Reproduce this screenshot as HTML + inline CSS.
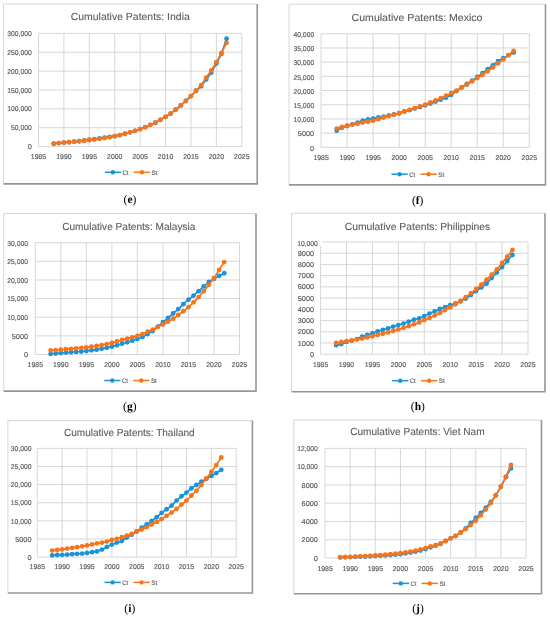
<!DOCTYPE html>
<html><head><meta charset="utf-8"><style>
html,body{margin:0;padding:0;background:#fff;}
svg{display:block;will-change:transform;filter:blur(0.35px);}
</style></head><body>
<svg width="550" height="618" viewBox="0 0 550 618" text-rendering="geometricPrecision" font-family="Liberation Sans, sans-serif">
<defs><filter id="sh" x="-5%" y="-5%" width="110%" height="110%"><feGaussianBlur stdDeviation="0.35"/></filter></defs>
<rect width="550" height="618" fill="#fff"/>
<path d="M3.5 183.7V4H257" stroke="#d6d6d6" stroke-width="1" fill="none"/>
<path d="M257.2 4V183.9H3.5" stroke="#969696" stroke-width="1.6" fill="none" filter="url(#sh)"/>
<path d="M38.5 146.6H241.8 M38.5 127.73H241.8 M38.5 108.87H241.8 M38.5 90H241.8 M38.5 71.13H241.8 M38.5 52.27H241.8 M38.5 33.4H241.8 M38.5 33.4V146.6 M63.91 33.4V146.6 M89.33 33.4V146.6 M114.74 33.4V146.6 M140.15 33.4V146.6 M165.56 33.4V146.6 M190.98 33.4V146.6 M216.39 33.4V146.6 M241.8 33.4V146.6" stroke="#D2D2D2" stroke-width="0.9" fill="none"/>
<text x="31.8" y="149.2" text-anchor="end" font-size="7.0" fill="#595959" stroke="#595959" stroke-width="0.15" textLength="4.09" lengthAdjust="spacingAndGlyphs">0</text>
<text x="31.8" y="130.33" text-anchor="end" font-size="7.0" fill="#595959" stroke="#595959" stroke-width="0.15" textLength="20.76" lengthAdjust="spacingAndGlyphs">50,000</text>
<text x="31.8" y="111.47" text-anchor="end" font-size="7.0" fill="#595959" stroke="#595959" stroke-width="0.15" textLength="24.54" lengthAdjust="spacingAndGlyphs">100,000</text>
<text x="31.8" y="92.6" text-anchor="end" font-size="7.0" fill="#595959" stroke="#595959" stroke-width="0.15" textLength="24.54" lengthAdjust="spacingAndGlyphs">150,000</text>
<text x="31.8" y="73.73" text-anchor="end" font-size="7.0" fill="#595959" stroke="#595959" stroke-width="0.15" textLength="24.54" lengthAdjust="spacingAndGlyphs">200,000</text>
<text x="31.8" y="54.87" text-anchor="end" font-size="7.0" fill="#595959" stroke="#595959" stroke-width="0.15" textLength="24.54" lengthAdjust="spacingAndGlyphs">250,000</text>
<text x="31.8" y="36" text-anchor="end" font-size="7.0" fill="#595959" stroke="#595959" stroke-width="0.15" textLength="24.54" lengthAdjust="spacingAndGlyphs">300,000</text>
<text x="38.5" y="158.8" text-anchor="middle" font-size="7.0" fill="#595959" stroke="#595959" stroke-width="0.15" textLength="15.41" lengthAdjust="spacingAndGlyphs">1985</text>
<text x="63.91" y="158.8" text-anchor="middle" font-size="7.0" fill="#595959" stroke="#595959" stroke-width="0.15" textLength="15.41" lengthAdjust="spacingAndGlyphs">1990</text>
<text x="89.33" y="158.8" text-anchor="middle" font-size="7.0" fill="#595959" stroke="#595959" stroke-width="0.15" textLength="15.41" lengthAdjust="spacingAndGlyphs">1995</text>
<text x="114.74" y="158.8" text-anchor="middle" font-size="7.0" fill="#595959" stroke="#595959" stroke-width="0.15" textLength="15.41" lengthAdjust="spacingAndGlyphs">2000</text>
<text x="140.15" y="158.8" text-anchor="middle" font-size="7.0" fill="#595959" stroke="#595959" stroke-width="0.15" textLength="15.41" lengthAdjust="spacingAndGlyphs">2005</text>
<text x="165.56" y="158.8" text-anchor="middle" font-size="7.0" fill="#595959" stroke="#595959" stroke-width="0.15" textLength="15.41" lengthAdjust="spacingAndGlyphs">2010</text>
<text x="190.98" y="158.8" text-anchor="middle" font-size="7.0" fill="#595959" stroke="#595959" stroke-width="0.15" textLength="15.41" lengthAdjust="spacingAndGlyphs">2015</text>
<text x="216.39" y="158.8" text-anchor="middle" font-size="7.0" fill="#595959" stroke="#595959" stroke-width="0.15" textLength="15.41" lengthAdjust="spacingAndGlyphs">2020</text>
<text x="241.8" y="158.8" text-anchor="middle" font-size="7.0" fill="#595959" stroke="#595959" stroke-width="0.15" textLength="15.41" lengthAdjust="spacingAndGlyphs">2025</text>
<text x="70.7" y="20.3" font-size="10.3" fill="#595959" stroke="#595959" stroke-width="0.08" textLength="119.1" lengthAdjust="spacingAndGlyphs">Cumulative Patents: India</text>
<path d="M53.75 143.77 L58.83 143.09 L63.91 142.6 L69 142.14 L74.08 141.7 L79.16 141.08 L84.24 140.4 L89.33 139.74 L94.41 139.04 L99.49 138.36 L104.57 137.6 L109.66 136.86 L114.74 136.15 L119.82 135.03 L124.9 133.76 L129.99 132.35 L135.07 130.78 L140.15 129.05 L145.23 127.17 L150.31 124.83 L155.4 122.68 L160.48 119.81 L165.56 116.79 L170.65 113.55 L175.73 109.62 L180.81 105.47 L185.89 100.94 L190.97 96.04 L196.06 90.75 L201.14 86.23 L206.22 79.43 L211.31 72.64 L216.39 63.59 L221.47 53.78 L226.55 38.68" stroke="#1893DC" stroke-width="1.7" fill="none" stroke-linejoin="round"/>
<circle cx="53.75" cy="143.77" r="2.4" fill="#1893DC"/><circle cx="58.83" cy="143.09" r="2.4" fill="#1893DC"/><circle cx="63.91" cy="142.6" r="2.4" fill="#1893DC"/><circle cx="69" cy="142.14" r="2.4" fill="#1893DC"/><circle cx="74.08" cy="141.7" r="2.4" fill="#1893DC"/><circle cx="79.16" cy="141.08" r="2.4" fill="#1893DC"/><circle cx="84.24" cy="140.4" r="2.4" fill="#1893DC"/><circle cx="89.33" cy="139.74" r="2.4" fill="#1893DC"/><circle cx="94.41" cy="139.04" r="2.4" fill="#1893DC"/><circle cx="99.49" cy="138.36" r="2.4" fill="#1893DC"/><circle cx="104.57" cy="137.6" r="2.4" fill="#1893DC"/><circle cx="109.66" cy="136.86" r="2.4" fill="#1893DC"/><circle cx="114.74" cy="136.15" r="2.4" fill="#1893DC"/><circle cx="119.82" cy="135.03" r="2.4" fill="#1893DC"/><circle cx="124.9" cy="133.76" r="2.4" fill="#1893DC"/><circle cx="129.99" cy="132.35" r="2.4" fill="#1893DC"/><circle cx="135.07" cy="130.78" r="2.4" fill="#1893DC"/><circle cx="140.15" cy="129.05" r="2.4" fill="#1893DC"/><circle cx="145.23" cy="127.17" r="2.4" fill="#1893DC"/><circle cx="150.31" cy="124.83" r="2.4" fill="#1893DC"/><circle cx="155.4" cy="122.68" r="2.4" fill="#1893DC"/><circle cx="160.48" cy="119.81" r="2.4" fill="#1893DC"/><circle cx="165.56" cy="116.79" r="2.4" fill="#1893DC"/><circle cx="170.65" cy="113.55" r="2.4" fill="#1893DC"/><circle cx="175.73" cy="109.62" r="2.4" fill="#1893DC"/><circle cx="180.81" cy="105.47" r="2.4" fill="#1893DC"/><circle cx="185.89" cy="100.94" r="2.4" fill="#1893DC"/><circle cx="190.97" cy="96.04" r="2.4" fill="#1893DC"/><circle cx="196.06" cy="90.75" r="2.4" fill="#1893DC"/><circle cx="201.14" cy="86.23" r="2.4" fill="#1893DC"/><circle cx="206.22" cy="79.43" r="2.4" fill="#1893DC"/><circle cx="211.31" cy="72.64" r="2.4" fill="#1893DC"/><circle cx="216.39" cy="63.59" r="2.4" fill="#1893DC"/><circle cx="221.47" cy="53.78" r="2.4" fill="#1893DC"/><circle cx="226.55" cy="38.68" r="2.4" fill="#1893DC"/>
<path d="M53.75 143.58 L58.83 143.09 L63.91 142.6 L69 142.14 L74.08 141.7 L79.16 141.24 L84.24 140.75 L89.33 140.19 L94.41 139.54 L99.49 138.82 L104.57 138.03 L109.66 137.14 L114.74 136.15 L119.82 135.03 L124.9 133.76 L129.99 132.35 L135.07 130.78 L140.15 129.05 L145.23 127.17 L150.31 124.83 L155.4 122.68 L160.48 119.81 L165.56 116.79 L170.65 113.55 L175.73 109.62 L180.81 105.47 L185.89 100.94 L190.97 96.04 L196.06 90.75 L201.14 85.09 L206.22 77.55 L211.31 70.38 L216.39 62.08 L221.47 53.02 L226.55 42.83" stroke="#F8741A" stroke-width="1.7" fill="none" stroke-linejoin="round"/>
<circle cx="53.75" cy="143.58" r="2.4" fill="#F8741A"/><circle cx="58.83" cy="143.09" r="2.4" fill="#F8741A"/><circle cx="63.91" cy="142.6" r="2.4" fill="#F8741A"/><circle cx="69" cy="142.14" r="2.4" fill="#F8741A"/><circle cx="74.08" cy="141.7" r="2.4" fill="#F8741A"/><circle cx="79.16" cy="141.24" r="2.4" fill="#F8741A"/><circle cx="84.24" cy="140.75" r="2.4" fill="#F8741A"/><circle cx="89.33" cy="140.19" r="2.4" fill="#F8741A"/><circle cx="94.41" cy="139.54" r="2.4" fill="#F8741A"/><circle cx="99.49" cy="138.82" r="2.4" fill="#F8741A"/><circle cx="104.57" cy="138.03" r="2.4" fill="#F8741A"/><circle cx="109.66" cy="137.14" r="2.4" fill="#F8741A"/><circle cx="114.74" cy="136.15" r="2.4" fill="#F8741A"/><circle cx="119.82" cy="135.03" r="2.4" fill="#F8741A"/><circle cx="124.9" cy="133.76" r="2.4" fill="#F8741A"/><circle cx="129.99" cy="132.35" r="2.4" fill="#F8741A"/><circle cx="135.07" cy="130.78" r="2.4" fill="#F8741A"/><circle cx="140.15" cy="129.05" r="2.4" fill="#F8741A"/><circle cx="145.23" cy="127.17" r="2.4" fill="#F8741A"/><circle cx="150.31" cy="124.83" r="2.4" fill="#F8741A"/><circle cx="155.4" cy="122.68" r="2.4" fill="#F8741A"/><circle cx="160.48" cy="119.81" r="2.4" fill="#F8741A"/><circle cx="165.56" cy="116.79" r="2.4" fill="#F8741A"/><circle cx="170.65" cy="113.55" r="2.4" fill="#F8741A"/><circle cx="175.73" cy="109.62" r="2.4" fill="#F8741A"/><circle cx="180.81" cy="105.47" r="2.4" fill="#F8741A"/><circle cx="185.89" cy="100.94" r="2.4" fill="#F8741A"/><circle cx="190.97" cy="96.04" r="2.4" fill="#F8741A"/><circle cx="196.06" cy="90.75" r="2.4" fill="#F8741A"/><circle cx="201.14" cy="85.09" r="2.4" fill="#F8741A"/><circle cx="206.22" cy="77.55" r="2.4" fill="#F8741A"/><circle cx="211.31" cy="70.38" r="2.4" fill="#F8741A"/><circle cx="216.39" cy="62.08" r="2.4" fill="#F8741A"/><circle cx="221.47" cy="53.02" r="2.4" fill="#F8741A"/><circle cx="226.55" cy="42.83" r="2.4" fill="#F8741A"/>
<path d="M104.8 172.3H121.1" stroke="#1893DC" stroke-width="1.5"/>
<circle cx="112.9" cy="172.3" r="2.2" fill="#1893DC"/>
<text x="122.5" y="174.6" font-size="6.4" fill="#595959" stroke="#595959" stroke-width="0.12" textLength="6.0" lengthAdjust="spacingAndGlyphs">Ct</text>
<path d="M133.8 172.3H150.1" stroke="#F8741A" stroke-width="1.5"/>
<circle cx="141.9" cy="172.3" r="2.2" fill="#F8741A"/>
<text x="151.5" y="174.6" font-size="6.4" fill="#595959" stroke="#595959" stroke-width="0.12" textLength="6.0" lengthAdjust="spacingAndGlyphs">St</text>
<text x="130" y="202.8" text-anchor="middle" font-family="Liberation Serif, serif" font-size="11.5" fill="#000">(<tspan font-weight="bold">e</tspan>)</text>
<path d="M289 184.7V4.2H545.3" stroke="#d6d6d6" stroke-width="1" fill="none"/>
<path d="M545.5 4.2V184.9H289" stroke="#969696" stroke-width="1.6" fill="none" filter="url(#sh)"/>
<path d="M321.1 147.3H529.3 M321.1 133.11H529.3 M321.1 118.93H529.3 M321.1 104.74H529.3 M321.1 90.55H529.3 M321.1 76.36H529.3 M321.1 62.17H529.3 M321.1 47.99H529.3 M321.1 33.8H529.3 M321.1 33.8V147.3 M347.12 33.8V147.3 M373.15 33.8V147.3 M399.18 33.8V147.3 M425.2 33.8V147.3 M451.22 33.8V147.3 M477.25 33.8V147.3 M503.27 33.8V147.3 M529.3 33.8V147.3" stroke="#D2D2D2" stroke-width="0.9" fill="none"/>
<text x="314.2" y="150.6" text-anchor="end" font-size="7.0" fill="#595959" stroke="#595959" stroke-width="0.15" textLength="4.09" lengthAdjust="spacingAndGlyphs">0</text>
<text x="314.2" y="136.41" text-anchor="end" font-size="7.0" fill="#595959" stroke="#595959" stroke-width="0.15" textLength="16.35" lengthAdjust="spacingAndGlyphs">5000</text>
<text x="314.2" y="122.23" text-anchor="end" font-size="7.0" fill="#595959" stroke="#595959" stroke-width="0.15" textLength="20.76" lengthAdjust="spacingAndGlyphs">10,000</text>
<text x="314.2" y="108.04" text-anchor="end" font-size="7.0" fill="#595959" stroke="#595959" stroke-width="0.15" textLength="20.76" lengthAdjust="spacingAndGlyphs">15,000</text>
<text x="314.2" y="93.85" text-anchor="end" font-size="7.0" fill="#595959" stroke="#595959" stroke-width="0.15" textLength="20.76" lengthAdjust="spacingAndGlyphs">20,000</text>
<text x="314.2" y="79.66" text-anchor="end" font-size="7.0" fill="#595959" stroke="#595959" stroke-width="0.15" textLength="20.76" lengthAdjust="spacingAndGlyphs">25,000</text>
<text x="314.2" y="65.47" text-anchor="end" font-size="7.0" fill="#595959" stroke="#595959" stroke-width="0.15" textLength="20.76" lengthAdjust="spacingAndGlyphs">30,000</text>
<text x="314.2" y="51.29" text-anchor="end" font-size="7.0" fill="#595959" stroke="#595959" stroke-width="0.15" textLength="20.76" lengthAdjust="spacingAndGlyphs">35,000</text>
<text x="314.2" y="37.1" text-anchor="end" font-size="7.0" fill="#595959" stroke="#595959" stroke-width="0.15" textLength="20.76" lengthAdjust="spacingAndGlyphs">40,000</text>
<text x="321.1" y="160.4" text-anchor="middle" font-size="7.0" fill="#595959" stroke="#595959" stroke-width="0.15" textLength="15.41" lengthAdjust="spacingAndGlyphs">1985</text>
<text x="347.12" y="160.4" text-anchor="middle" font-size="7.0" fill="#595959" stroke="#595959" stroke-width="0.15" textLength="15.41" lengthAdjust="spacingAndGlyphs">1990</text>
<text x="373.15" y="160.4" text-anchor="middle" font-size="7.0" fill="#595959" stroke="#595959" stroke-width="0.15" textLength="15.41" lengthAdjust="spacingAndGlyphs">1995</text>
<text x="399.18" y="160.4" text-anchor="middle" font-size="7.0" fill="#595959" stroke="#595959" stroke-width="0.15" textLength="15.41" lengthAdjust="spacingAndGlyphs">2000</text>
<text x="425.2" y="160.4" text-anchor="middle" font-size="7.0" fill="#595959" stroke="#595959" stroke-width="0.15" textLength="15.41" lengthAdjust="spacingAndGlyphs">2005</text>
<text x="451.22" y="160.4" text-anchor="middle" font-size="7.0" fill="#595959" stroke="#595959" stroke-width="0.15" textLength="15.41" lengthAdjust="spacingAndGlyphs">2010</text>
<text x="477.25" y="160.4" text-anchor="middle" font-size="7.0" fill="#595959" stroke="#595959" stroke-width="0.15" textLength="15.41" lengthAdjust="spacingAndGlyphs">2015</text>
<text x="503.27" y="160.4" text-anchor="middle" font-size="7.0" fill="#595959" stroke="#595959" stroke-width="0.15" textLength="15.41" lengthAdjust="spacingAndGlyphs">2020</text>
<text x="529.3" y="160.4" text-anchor="middle" font-size="7.0" fill="#595959" stroke="#595959" stroke-width="0.15" textLength="15.41" lengthAdjust="spacingAndGlyphs">2025</text>
<text x="351.6" y="21" font-size="10.3" fill="#595959" stroke="#595959" stroke-width="0.08" textLength="130.9" lengthAdjust="spacingAndGlyphs">Cumulative Patents: Mexico</text>
<path d="M336.72 130.7 L341.92 127.72 L347.12 126.02 L352.33 124.32 L357.54 122.61 L362.74 120.63 L367.94 119.49 L373.15 118.64 L378.36 117.51 L383.56 116.66 L388.76 115.52 L393.97 114.39 L399.18 113.25 L404.38 111.55 L409.58 110.13 L414.79 108.43 L420 107.01 L425.2 105.31 L430.4 103.6 L435.61 101.62 L440.81 99.63 L446.02 97.64 L451.22 94.81 L456.43 91.12 L461.63 87.43 L466.84 84.02 L472.04 80.62 L477.25 76.93 L482.45 73.24 L487.66 69.27 L492.86 65.3 L498.07 61.04 L503.27 58.2 L508.48 55.37 L513.68 52.53" stroke="#1893DC" stroke-width="1.7" fill="none" stroke-linejoin="round"/>
<circle cx="336.72" cy="130.7" r="2.4" fill="#1893DC"/><circle cx="341.92" cy="127.72" r="2.4" fill="#1893DC"/><circle cx="347.12" cy="126.02" r="2.4" fill="#1893DC"/><circle cx="352.33" cy="124.32" r="2.4" fill="#1893DC"/><circle cx="357.54" cy="122.61" r="2.4" fill="#1893DC"/><circle cx="362.74" cy="120.63" r="2.4" fill="#1893DC"/><circle cx="367.94" cy="119.49" r="2.4" fill="#1893DC"/><circle cx="373.15" cy="118.64" r="2.4" fill="#1893DC"/><circle cx="378.36" cy="117.51" r="2.4" fill="#1893DC"/><circle cx="383.56" cy="116.66" r="2.4" fill="#1893DC"/><circle cx="388.76" cy="115.52" r="2.4" fill="#1893DC"/><circle cx="393.97" cy="114.39" r="2.4" fill="#1893DC"/><circle cx="399.18" cy="113.25" r="2.4" fill="#1893DC"/><circle cx="404.38" cy="111.55" r="2.4" fill="#1893DC"/><circle cx="409.58" cy="110.13" r="2.4" fill="#1893DC"/><circle cx="414.79" cy="108.43" r="2.4" fill="#1893DC"/><circle cx="420" cy="107.01" r="2.4" fill="#1893DC"/><circle cx="425.2" cy="105.31" r="2.4" fill="#1893DC"/><circle cx="430.4" cy="103.6" r="2.4" fill="#1893DC"/><circle cx="435.61" cy="101.62" r="2.4" fill="#1893DC"/><circle cx="440.81" cy="99.63" r="2.4" fill="#1893DC"/><circle cx="446.02" cy="97.64" r="2.4" fill="#1893DC"/><circle cx="451.22" cy="94.81" r="2.4" fill="#1893DC"/><circle cx="456.43" cy="91.12" r="2.4" fill="#1893DC"/><circle cx="461.63" cy="87.43" r="2.4" fill="#1893DC"/><circle cx="466.84" cy="84.02" r="2.4" fill="#1893DC"/><circle cx="472.04" cy="80.62" r="2.4" fill="#1893DC"/><circle cx="477.25" cy="76.93" r="2.4" fill="#1893DC"/><circle cx="482.45" cy="73.24" r="2.4" fill="#1893DC"/><circle cx="487.66" cy="69.27" r="2.4" fill="#1893DC"/><circle cx="492.86" cy="65.3" r="2.4" fill="#1893DC"/><circle cx="498.07" cy="61.04" r="2.4" fill="#1893DC"/><circle cx="503.27" cy="58.2" r="2.4" fill="#1893DC"/><circle cx="508.48" cy="55.37" r="2.4" fill="#1893DC"/><circle cx="513.68" cy="52.53" r="2.4" fill="#1893DC"/>
<path d="M336.72 128.57 L341.92 126.87 L347.12 125.74 L352.33 124.6 L357.54 123.75 L362.74 122.61 L367.94 121.76 L373.15 120.63 L378.36 119.21 L383.56 117.51 L388.76 116.09 L393.97 114.67 L399.18 113.25 L404.38 111.26 L409.58 109.85 L414.79 108.14 L420 106.44 L425.2 104.6 L430.4 102.47 L435.61 100.48 L440.81 98.21 L446.02 95.66 L451.22 93.1 L456.43 90.55 L461.63 87.43 L466.84 84.59 L472.04 81.47 L477.25 78.06 L482.45 74.66 L487.66 71.25 L492.86 67.28 L498.07 63.31 L503.27 59.34 L508.48 55.08 L513.68 50.82" stroke="#F8741A" stroke-width="1.7" fill="none" stroke-linejoin="round"/>
<circle cx="336.72" cy="128.57" r="2.4" fill="#F8741A"/><circle cx="341.92" cy="126.87" r="2.4" fill="#F8741A"/><circle cx="347.12" cy="125.74" r="2.4" fill="#F8741A"/><circle cx="352.33" cy="124.6" r="2.4" fill="#F8741A"/><circle cx="357.54" cy="123.75" r="2.4" fill="#F8741A"/><circle cx="362.74" cy="122.61" r="2.4" fill="#F8741A"/><circle cx="367.94" cy="121.76" r="2.4" fill="#F8741A"/><circle cx="373.15" cy="120.63" r="2.4" fill="#F8741A"/><circle cx="378.36" cy="119.21" r="2.4" fill="#F8741A"/><circle cx="383.56" cy="117.51" r="2.4" fill="#F8741A"/><circle cx="388.76" cy="116.09" r="2.4" fill="#F8741A"/><circle cx="393.97" cy="114.67" r="2.4" fill="#F8741A"/><circle cx="399.18" cy="113.25" r="2.4" fill="#F8741A"/><circle cx="404.38" cy="111.26" r="2.4" fill="#F8741A"/><circle cx="409.58" cy="109.85" r="2.4" fill="#F8741A"/><circle cx="414.79" cy="108.14" r="2.4" fill="#F8741A"/><circle cx="420" cy="106.44" r="2.4" fill="#F8741A"/><circle cx="425.2" cy="104.6" r="2.4" fill="#F8741A"/><circle cx="430.4" cy="102.47" r="2.4" fill="#F8741A"/><circle cx="435.61" cy="100.48" r="2.4" fill="#F8741A"/><circle cx="440.81" cy="98.21" r="2.4" fill="#F8741A"/><circle cx="446.02" cy="95.66" r="2.4" fill="#F8741A"/><circle cx="451.22" cy="93.1" r="2.4" fill="#F8741A"/><circle cx="456.43" cy="90.55" r="2.4" fill="#F8741A"/><circle cx="461.63" cy="87.43" r="2.4" fill="#F8741A"/><circle cx="466.84" cy="84.59" r="2.4" fill="#F8741A"/><circle cx="472.04" cy="81.47" r="2.4" fill="#F8741A"/><circle cx="477.25" cy="78.06" r="2.4" fill="#F8741A"/><circle cx="482.45" cy="74.66" r="2.4" fill="#F8741A"/><circle cx="487.66" cy="71.25" r="2.4" fill="#F8741A"/><circle cx="492.86" cy="67.28" r="2.4" fill="#F8741A"/><circle cx="498.07" cy="63.31" r="2.4" fill="#F8741A"/><circle cx="503.27" cy="59.34" r="2.4" fill="#F8741A"/><circle cx="508.48" cy="55.08" r="2.4" fill="#F8741A"/><circle cx="513.68" cy="50.82" r="2.4" fill="#F8741A"/>
<path d="M391.5 174.2H407.8" stroke="#1893DC" stroke-width="1.5"/>
<circle cx="399.6" cy="174.2" r="2.2" fill="#1893DC"/>
<text x="409.2" y="176.5" font-size="6.4" fill="#595959" stroke="#595959" stroke-width="0.12" textLength="6.0" lengthAdjust="spacingAndGlyphs">Ct</text>
<path d="M420.5 174.2H436.8" stroke="#F8741A" stroke-width="1.5"/>
<circle cx="428.6" cy="174.2" r="2.2" fill="#F8741A"/>
<text x="438.2" y="176.5" font-size="6.4" fill="#595959" stroke="#595959" stroke-width="0.12" textLength="6.0" lengthAdjust="spacingAndGlyphs">St</text>
<text x="417.7" y="203.5" text-anchor="middle" font-family="Liberation Serif, serif" font-size="11.5" fill="#000">(<tspan font-weight="bold">f</tspan>)</text>
<path d="M3.7 390.9V213.5H255.8" stroke="#d6d6d6" stroke-width="1" fill="none"/>
<path d="M256 213.5V391.1H3.7" stroke="#969696" stroke-width="1.6" fill="none" filter="url(#sh)"/>
<path d="M35.3 354.5H239.5 M35.3 335.87H239.5 M35.3 317.23H239.5 M35.3 298.6H239.5 M35.3 279.97H239.5 M35.3 261.33H239.5 M35.3 242.7H239.5 M35.3 242.7V354.5 M60.82 242.7V354.5 M86.35 242.7V354.5 M111.87 242.7V354.5 M137.4 242.7V354.5 M162.93 242.7V354.5 M188.45 242.7V354.5 M213.97 242.7V354.5 M239.5 242.7V354.5" stroke="#D2D2D2" stroke-width="0.9" fill="none"/>
<text x="28.1" y="357.3" text-anchor="end" font-size="7.0" fill="#595959" stroke="#595959" stroke-width="0.15" textLength="4.09" lengthAdjust="spacingAndGlyphs">0</text>
<text x="28.1" y="338.67" text-anchor="end" font-size="7.0" fill="#595959" stroke="#595959" stroke-width="0.15" textLength="16.35" lengthAdjust="spacingAndGlyphs">5000</text>
<text x="28.1" y="320.03" text-anchor="end" font-size="7.0" fill="#595959" stroke="#595959" stroke-width="0.15" textLength="20.76" lengthAdjust="spacingAndGlyphs">10,000</text>
<text x="28.1" y="301.4" text-anchor="end" font-size="7.0" fill="#595959" stroke="#595959" stroke-width="0.15" textLength="20.76" lengthAdjust="spacingAndGlyphs">15,000</text>
<text x="28.1" y="282.77" text-anchor="end" font-size="7.0" fill="#595959" stroke="#595959" stroke-width="0.15" textLength="20.76" lengthAdjust="spacingAndGlyphs">20,000</text>
<text x="28.1" y="264.13" text-anchor="end" font-size="7.0" fill="#595959" stroke="#595959" stroke-width="0.15" textLength="20.76" lengthAdjust="spacingAndGlyphs">25,000</text>
<text x="28.1" y="245.5" text-anchor="end" font-size="7.0" fill="#595959" stroke="#595959" stroke-width="0.15" textLength="20.76" lengthAdjust="spacingAndGlyphs">30,000</text>
<text x="35.3" y="366.6" text-anchor="middle" font-size="7.0" fill="#595959" stroke="#595959" stroke-width="0.15" textLength="15.41" lengthAdjust="spacingAndGlyphs">1985</text>
<text x="60.82" y="366.6" text-anchor="middle" font-size="7.0" fill="#595959" stroke="#595959" stroke-width="0.15" textLength="15.41" lengthAdjust="spacingAndGlyphs">1990</text>
<text x="86.35" y="366.6" text-anchor="middle" font-size="7.0" fill="#595959" stroke="#595959" stroke-width="0.15" textLength="15.41" lengthAdjust="spacingAndGlyphs">1995</text>
<text x="111.87" y="366.6" text-anchor="middle" font-size="7.0" fill="#595959" stroke="#595959" stroke-width="0.15" textLength="15.41" lengthAdjust="spacingAndGlyphs">2000</text>
<text x="137.4" y="366.6" text-anchor="middle" font-size="7.0" fill="#595959" stroke="#595959" stroke-width="0.15" textLength="15.41" lengthAdjust="spacingAndGlyphs">2005</text>
<text x="162.93" y="366.6" text-anchor="middle" font-size="7.0" fill="#595959" stroke="#595959" stroke-width="0.15" textLength="15.41" lengthAdjust="spacingAndGlyphs">2010</text>
<text x="188.45" y="366.6" text-anchor="middle" font-size="7.0" fill="#595959" stroke="#595959" stroke-width="0.15" textLength="15.41" lengthAdjust="spacingAndGlyphs">2015</text>
<text x="213.97" y="366.6" text-anchor="middle" font-size="7.0" fill="#595959" stroke="#595959" stroke-width="0.15" textLength="15.41" lengthAdjust="spacingAndGlyphs">2020</text>
<text x="239.5" y="366.6" text-anchor="middle" font-size="7.0" fill="#595959" stroke="#595959" stroke-width="0.15" textLength="15.41" lengthAdjust="spacingAndGlyphs">2025</text>
<text x="62.2" y="229.5" font-size="10.3" fill="#595959" stroke="#595959" stroke-width="0.08" textLength="133.3" lengthAdjust="spacingAndGlyphs">Cumulative Patents: Malaysia</text>
<path d="M50.61 353.94 L55.72 353.51 L60.82 353.01 L65.93 352.61 L71.03 352.24 L76.14 351.88 L81.25 351.49 L86.35 351 L91.45 350.37 L96.56 349.65 L101.66 348.81 L106.77 347.83 L111.88 346.67 L116.98 345.25 L122.08 343.69 L127.19 342.23 L132.29 340.71 L137.4 339.03 L142.5 337.06 L147.61 334.08 L152.71 331.02 L157.82 326.55 L162.93 322.08 L168.03 317.98 L173.13 313.51 L178.24 309.03 L183.34 304.19 L188.45 299.72 L193.56 295.62 L198.66 291.15 L203.76 286.3 L208.87 281.83 L213.98 278.85 L219.08 275.87 L224.19 273.26" stroke="#1893DC" stroke-width="1.7" fill="none" stroke-linejoin="round"/>
<circle cx="50.61" cy="353.94" r="2.4" fill="#1893DC"/><circle cx="55.72" cy="353.51" r="2.4" fill="#1893DC"/><circle cx="60.82" cy="353.01" r="2.4" fill="#1893DC"/><circle cx="65.93" cy="352.61" r="2.4" fill="#1893DC"/><circle cx="71.03" cy="352.24" r="2.4" fill="#1893DC"/><circle cx="76.14" cy="351.88" r="2.4" fill="#1893DC"/><circle cx="81.25" cy="351.49" r="2.4" fill="#1893DC"/><circle cx="86.35" cy="351" r="2.4" fill="#1893DC"/><circle cx="91.45" cy="350.37" r="2.4" fill="#1893DC"/><circle cx="96.56" cy="349.65" r="2.4" fill="#1893DC"/><circle cx="101.66" cy="348.81" r="2.4" fill="#1893DC"/><circle cx="106.77" cy="347.83" r="2.4" fill="#1893DC"/><circle cx="111.88" cy="346.67" r="2.4" fill="#1893DC"/><circle cx="116.98" cy="345.25" r="2.4" fill="#1893DC"/><circle cx="122.08" cy="343.69" r="2.4" fill="#1893DC"/><circle cx="127.19" cy="342.23" r="2.4" fill="#1893DC"/><circle cx="132.29" cy="340.71" r="2.4" fill="#1893DC"/><circle cx="137.4" cy="339.03" r="2.4" fill="#1893DC"/><circle cx="142.5" cy="337.06" r="2.4" fill="#1893DC"/><circle cx="147.61" cy="334.08" r="2.4" fill="#1893DC"/><circle cx="152.71" cy="331.02" r="2.4" fill="#1893DC"/><circle cx="157.82" cy="326.55" r="2.4" fill="#1893DC"/><circle cx="162.93" cy="322.08" r="2.4" fill="#1893DC"/><circle cx="168.03" cy="317.98" r="2.4" fill="#1893DC"/><circle cx="173.13" cy="313.51" r="2.4" fill="#1893DC"/><circle cx="178.24" cy="309.03" r="2.4" fill="#1893DC"/><circle cx="183.34" cy="304.19" r="2.4" fill="#1893DC"/><circle cx="188.45" cy="299.72" r="2.4" fill="#1893DC"/><circle cx="193.56" cy="295.62" r="2.4" fill="#1893DC"/><circle cx="198.66" cy="291.15" r="2.4" fill="#1893DC"/><circle cx="203.76" cy="286.3" r="2.4" fill="#1893DC"/><circle cx="208.87" cy="281.83" r="2.4" fill="#1893DC"/><circle cx="213.98" cy="278.85" r="2.4" fill="#1893DC"/><circle cx="219.08" cy="275.87" r="2.4" fill="#1893DC"/><circle cx="224.19" cy="273.26" r="2.4" fill="#1893DC"/>
<path d="M50.61 350.4 L55.72 350.04 L60.82 349.66 L65.93 349.27 L71.03 348.87 L76.14 348.45 L81.25 347.97 L86.35 347.42 L91.45 346.76 L96.56 346 L101.66 345.12 L106.77 344.11 L111.88 342.95 L116.98 341.51 L122.08 339.97 L127.19 338.66 L132.29 337.36 L137.4 335.87 L142.5 334.08 L147.61 331.66 L152.71 329.64 L157.82 327.03 L162.93 324.46 L168.03 321.71 L173.13 318.72 L178.24 315 L183.34 311.27 L188.45 307.17 L193.56 302.33 L198.66 297.11 L203.76 291.15 L208.87 284.81 L213.98 278.1 L219.08 269.9 L224.19 262.08" stroke="#F8741A" stroke-width="1.7" fill="none" stroke-linejoin="round"/>
<circle cx="50.61" cy="350.4" r="2.4" fill="#F8741A"/><circle cx="55.72" cy="350.04" r="2.4" fill="#F8741A"/><circle cx="60.82" cy="349.66" r="2.4" fill="#F8741A"/><circle cx="65.93" cy="349.27" r="2.4" fill="#F8741A"/><circle cx="71.03" cy="348.87" r="2.4" fill="#F8741A"/><circle cx="76.14" cy="348.45" r="2.4" fill="#F8741A"/><circle cx="81.25" cy="347.97" r="2.4" fill="#F8741A"/><circle cx="86.35" cy="347.42" r="2.4" fill="#F8741A"/><circle cx="91.45" cy="346.76" r="2.4" fill="#F8741A"/><circle cx="96.56" cy="346" r="2.4" fill="#F8741A"/><circle cx="101.66" cy="345.12" r="2.4" fill="#F8741A"/><circle cx="106.77" cy="344.11" r="2.4" fill="#F8741A"/><circle cx="111.88" cy="342.95" r="2.4" fill="#F8741A"/><circle cx="116.98" cy="341.51" r="2.4" fill="#F8741A"/><circle cx="122.08" cy="339.97" r="2.4" fill="#F8741A"/><circle cx="127.19" cy="338.66" r="2.4" fill="#F8741A"/><circle cx="132.29" cy="337.36" r="2.4" fill="#F8741A"/><circle cx="137.4" cy="335.87" r="2.4" fill="#F8741A"/><circle cx="142.5" cy="334.08" r="2.4" fill="#F8741A"/><circle cx="147.61" cy="331.66" r="2.4" fill="#F8741A"/><circle cx="152.71" cy="329.64" r="2.4" fill="#F8741A"/><circle cx="157.82" cy="327.03" r="2.4" fill="#F8741A"/><circle cx="162.93" cy="324.46" r="2.4" fill="#F8741A"/><circle cx="168.03" cy="321.71" r="2.4" fill="#F8741A"/><circle cx="173.13" cy="318.72" r="2.4" fill="#F8741A"/><circle cx="178.24" cy="315" r="2.4" fill="#F8741A"/><circle cx="183.34" cy="311.27" r="2.4" fill="#F8741A"/><circle cx="188.45" cy="307.17" r="2.4" fill="#F8741A"/><circle cx="193.56" cy="302.33" r="2.4" fill="#F8741A"/><circle cx="198.66" cy="297.11" r="2.4" fill="#F8741A"/><circle cx="203.76" cy="291.15" r="2.4" fill="#F8741A"/><circle cx="208.87" cy="284.81" r="2.4" fill="#F8741A"/><circle cx="213.98" cy="278.1" r="2.4" fill="#F8741A"/><circle cx="219.08" cy="269.9" r="2.4" fill="#F8741A"/><circle cx="224.19" cy="262.08" r="2.4" fill="#F8741A"/>
<path d="M104.2 380.5H120.5" stroke="#1893DC" stroke-width="1.5"/>
<circle cx="112.3" cy="380.5" r="2.2" fill="#1893DC"/>
<text x="121.9" y="382.8" font-size="6.4" fill="#595959" stroke="#595959" stroke-width="0.12" textLength="6.0" lengthAdjust="spacingAndGlyphs">Ct</text>
<path d="M133.2 380.5H149.5" stroke="#F8741A" stroke-width="1.5"/>
<circle cx="141.3" cy="380.5" r="2.2" fill="#F8741A"/>
<text x="150.9" y="382.8" font-size="6.4" fill="#595959" stroke="#595959" stroke-width="0.12" textLength="6.0" lengthAdjust="spacingAndGlyphs">St</text>
<text x="129.8" y="410" text-anchor="middle" font-family="Liberation Serif, serif" font-size="11.5" fill="#000">(<tspan font-weight="bold">g</tspan>)</text>
<path d="M291.5 391.5V213.2H544.8" stroke="#d6d6d6" stroke-width="1" fill="none"/>
<path d="M545 213.2V391.7H291.5" stroke="#969696" stroke-width="1.6" fill="none" filter="url(#sh)"/>
<path d="M320.6 354.2H528 M320.6 342.98H528 M320.6 331.76H528 M320.6 320.54H528 M320.6 309.32H528 M320.6 298.1H528 M320.6 286.88H528 M320.6 275.66H528 M320.6 264.44H528 M320.6 253.22H528 M320.6 242H528 M320.6 242V354.2 M346.53 242V354.2 M372.45 242V354.2 M398.38 242V354.2 M424.3 242V354.2 M450.23 242V354.2 M476.15 242V354.2 M502.07 242V354.2 M528 242V354.2" stroke="#D2D2D2" stroke-width="0.9" fill="none"/>
<rect x="296.6" y="237" width="26.2" height="9" fill="#fff"/>
<text x="314.1" y="356.8" text-anchor="end" font-size="7.0" fill="#595959" stroke="#595959" stroke-width="0.15" textLength="4.09" lengthAdjust="spacingAndGlyphs">0</text>
<text x="314.1" y="345.58" text-anchor="end" font-size="7.0" fill="#595959" stroke="#595959" stroke-width="0.15" textLength="16.35" lengthAdjust="spacingAndGlyphs">1000</text>
<text x="314.1" y="334.36" text-anchor="end" font-size="7.0" fill="#595959" stroke="#595959" stroke-width="0.15" textLength="16.35" lengthAdjust="spacingAndGlyphs">2000</text>
<text x="314.1" y="323.14" text-anchor="end" font-size="7.0" fill="#595959" stroke="#595959" stroke-width="0.15" textLength="16.35" lengthAdjust="spacingAndGlyphs">3000</text>
<text x="314.1" y="311.92" text-anchor="end" font-size="7.0" fill="#595959" stroke="#595959" stroke-width="0.15" textLength="16.35" lengthAdjust="spacingAndGlyphs">4000</text>
<text x="314.1" y="300.7" text-anchor="end" font-size="7.0" fill="#595959" stroke="#595959" stroke-width="0.15" textLength="16.35" lengthAdjust="spacingAndGlyphs">5000</text>
<text x="314.1" y="289.48" text-anchor="end" font-size="7.0" fill="#595959" stroke="#595959" stroke-width="0.15" textLength="16.35" lengthAdjust="spacingAndGlyphs">6000</text>
<text x="314.1" y="278.26" text-anchor="end" font-size="7.0" fill="#595959" stroke="#595959" stroke-width="0.15" textLength="16.35" lengthAdjust="spacingAndGlyphs">7000</text>
<text x="314.1" y="267.04" text-anchor="end" font-size="7.0" fill="#595959" stroke="#595959" stroke-width="0.15" textLength="16.35" lengthAdjust="spacingAndGlyphs">8000</text>
<text x="314.1" y="255.82" text-anchor="end" font-size="7.0" fill="#595959" stroke="#595959" stroke-width="0.15" textLength="16.35" lengthAdjust="spacingAndGlyphs">9000</text>
<text x="317.9" y="245.5" text-anchor="end" font-size="7.0" fill="#595959" stroke="#595959" stroke-width="0.15" textLength="20.76" lengthAdjust="spacingAndGlyphs">10,000</text>
<text x="320.6" y="366.6" text-anchor="middle" font-size="7.0" fill="#595959" stroke="#595959" stroke-width="0.15" textLength="15.41" lengthAdjust="spacingAndGlyphs">1985</text>
<text x="346.53" y="366.6" text-anchor="middle" font-size="7.0" fill="#595959" stroke="#595959" stroke-width="0.15" textLength="15.41" lengthAdjust="spacingAndGlyphs">1990</text>
<text x="372.45" y="366.6" text-anchor="middle" font-size="7.0" fill="#595959" stroke="#595959" stroke-width="0.15" textLength="15.41" lengthAdjust="spacingAndGlyphs">1995</text>
<text x="398.38" y="366.6" text-anchor="middle" font-size="7.0" fill="#595959" stroke="#595959" stroke-width="0.15" textLength="15.41" lengthAdjust="spacingAndGlyphs">2000</text>
<text x="424.3" y="366.6" text-anchor="middle" font-size="7.0" fill="#595959" stroke="#595959" stroke-width="0.15" textLength="15.41" lengthAdjust="spacingAndGlyphs">2005</text>
<text x="450.23" y="366.6" text-anchor="middle" font-size="7.0" fill="#595959" stroke="#595959" stroke-width="0.15" textLength="15.41" lengthAdjust="spacingAndGlyphs">2010</text>
<text x="476.15" y="366.6" text-anchor="middle" font-size="7.0" fill="#595959" stroke="#595959" stroke-width="0.15" textLength="15.41" lengthAdjust="spacingAndGlyphs">2015</text>
<text x="502.07" y="366.6" text-anchor="middle" font-size="7.0" fill="#595959" stroke="#595959" stroke-width="0.15" textLength="15.41" lengthAdjust="spacingAndGlyphs">2020</text>
<text x="528" y="366.6" text-anchor="middle" font-size="7.0" fill="#595959" stroke="#595959" stroke-width="0.15" textLength="15.41" lengthAdjust="spacingAndGlyphs">2025</text>
<text x="344.7" y="229.7" font-size="10.3" fill="#595959" stroke="#595959" stroke-width="0.08" textLength="145.6" lengthAdjust="spacingAndGlyphs">Cumulative Patents: Philippines</text>
<path d="M336.16 345.22 L341.34 344.1 L346.53 341.97 L351.71 340.74 L356.9 339.05 L362.08 336.58 L367.27 335.01 L372.45 333.44 L377.63 331.42 L382.82 329.96 L388 328.39 L393.19 326.6 L398.38 325.03 L403.56 323.57 L408.75 321.66 L413.93 319.75 L419.12 318.41 L424.3 316.05 L429.49 313.58 L434.67 311.45 L439.86 308.98 L445.04 307.08 L450.23 305.06 L455.41 303.49 L460.6 301.24 L465.78 298.55 L470.97 294.96 L476.15 291.03 L481.34 287.44 L486.52 283.63 L491.7 278.02 L496.89 272.41 L502.07 267.02 L507.26 261.07 L512.44 255.02" stroke="#1893DC" stroke-width="1.7" fill="none" stroke-linejoin="round"/>
<circle cx="336.16" cy="345.22" r="2.4" fill="#1893DC"/><circle cx="341.34" cy="344.1" r="2.4" fill="#1893DC"/><circle cx="346.53" cy="341.97" r="2.4" fill="#1893DC"/><circle cx="351.71" cy="340.74" r="2.4" fill="#1893DC"/><circle cx="356.9" cy="339.05" r="2.4" fill="#1893DC"/><circle cx="362.08" cy="336.58" r="2.4" fill="#1893DC"/><circle cx="367.27" cy="335.01" r="2.4" fill="#1893DC"/><circle cx="372.45" cy="333.44" r="2.4" fill="#1893DC"/><circle cx="377.63" cy="331.42" r="2.4" fill="#1893DC"/><circle cx="382.82" cy="329.96" r="2.4" fill="#1893DC"/><circle cx="388" cy="328.39" r="2.4" fill="#1893DC"/><circle cx="393.19" cy="326.6" r="2.4" fill="#1893DC"/><circle cx="398.38" cy="325.03" r="2.4" fill="#1893DC"/><circle cx="403.56" cy="323.57" r="2.4" fill="#1893DC"/><circle cx="408.75" cy="321.66" r="2.4" fill="#1893DC"/><circle cx="413.93" cy="319.75" r="2.4" fill="#1893DC"/><circle cx="419.12" cy="318.41" r="2.4" fill="#1893DC"/><circle cx="424.3" cy="316.05" r="2.4" fill="#1893DC"/><circle cx="429.49" cy="313.58" r="2.4" fill="#1893DC"/><circle cx="434.67" cy="311.45" r="2.4" fill="#1893DC"/><circle cx="439.86" cy="308.98" r="2.4" fill="#1893DC"/><circle cx="445.04" cy="307.08" r="2.4" fill="#1893DC"/><circle cx="450.23" cy="305.06" r="2.4" fill="#1893DC"/><circle cx="455.41" cy="303.49" r="2.4" fill="#1893DC"/><circle cx="460.6" cy="301.24" r="2.4" fill="#1893DC"/><circle cx="465.78" cy="298.55" r="2.4" fill="#1893DC"/><circle cx="470.97" cy="294.96" r="2.4" fill="#1893DC"/><circle cx="476.15" cy="291.03" r="2.4" fill="#1893DC"/><circle cx="481.34" cy="287.44" r="2.4" fill="#1893DC"/><circle cx="486.52" cy="283.63" r="2.4" fill="#1893DC"/><circle cx="491.7" cy="278.02" r="2.4" fill="#1893DC"/><circle cx="496.89" cy="272.41" r="2.4" fill="#1893DC"/><circle cx="502.07" cy="267.02" r="2.4" fill="#1893DC"/><circle cx="507.26" cy="261.07" r="2.4" fill="#1893DC"/><circle cx="512.44" cy="255.02" r="2.4" fill="#1893DC"/>
<path d="M336.16 342.98 L341.34 341.97 L346.53 341.18 L351.71 340.51 L356.9 339.61 L362.08 338.6 L367.27 337.37 L372.45 336.25 L377.63 335.01 L382.82 333.78 L388 332.43 L393.19 330.97 L398.38 329.4 L403.56 327.83 L408.75 326.15 L413.93 324.35 L419.12 322.45 L424.3 319.98 L429.49 317.96 L434.67 315.6 L439.86 313.02 L445.04 309.99 L450.23 307.41 L455.41 304.27 L460.6 301.02 L465.78 297.2 L470.97 293.05 L476.15 289.01 L481.34 284.64 L486.52 279.59 L491.7 274.65 L496.89 269.38 L502.07 262.98 L507.26 256.59 L512.44 249.97" stroke="#F8741A" stroke-width="1.7" fill="none" stroke-linejoin="round"/>
<circle cx="336.16" cy="342.98" r="2.4" fill="#F8741A"/><circle cx="341.34" cy="341.97" r="2.4" fill="#F8741A"/><circle cx="346.53" cy="341.18" r="2.4" fill="#F8741A"/><circle cx="351.71" cy="340.51" r="2.4" fill="#F8741A"/><circle cx="356.9" cy="339.61" r="2.4" fill="#F8741A"/><circle cx="362.08" cy="338.6" r="2.4" fill="#F8741A"/><circle cx="367.27" cy="337.37" r="2.4" fill="#F8741A"/><circle cx="372.45" cy="336.25" r="2.4" fill="#F8741A"/><circle cx="377.63" cy="335.01" r="2.4" fill="#F8741A"/><circle cx="382.82" cy="333.78" r="2.4" fill="#F8741A"/><circle cx="388" cy="332.43" r="2.4" fill="#F8741A"/><circle cx="393.19" cy="330.97" r="2.4" fill="#F8741A"/><circle cx="398.38" cy="329.4" r="2.4" fill="#F8741A"/><circle cx="403.56" cy="327.83" r="2.4" fill="#F8741A"/><circle cx="408.75" cy="326.15" r="2.4" fill="#F8741A"/><circle cx="413.93" cy="324.35" r="2.4" fill="#F8741A"/><circle cx="419.12" cy="322.45" r="2.4" fill="#F8741A"/><circle cx="424.3" cy="319.98" r="2.4" fill="#F8741A"/><circle cx="429.49" cy="317.96" r="2.4" fill="#F8741A"/><circle cx="434.67" cy="315.6" r="2.4" fill="#F8741A"/><circle cx="439.86" cy="313.02" r="2.4" fill="#F8741A"/><circle cx="445.04" cy="309.99" r="2.4" fill="#F8741A"/><circle cx="450.23" cy="307.41" r="2.4" fill="#F8741A"/><circle cx="455.41" cy="304.27" r="2.4" fill="#F8741A"/><circle cx="460.6" cy="301.02" r="2.4" fill="#F8741A"/><circle cx="465.78" cy="297.2" r="2.4" fill="#F8741A"/><circle cx="470.97" cy="293.05" r="2.4" fill="#F8741A"/><circle cx="476.15" cy="289.01" r="2.4" fill="#F8741A"/><circle cx="481.34" cy="284.64" r="2.4" fill="#F8741A"/><circle cx="486.52" cy="279.59" r="2.4" fill="#F8741A"/><circle cx="491.7" cy="274.65" r="2.4" fill="#F8741A"/><circle cx="496.89" cy="269.38" r="2.4" fill="#F8741A"/><circle cx="502.07" cy="262.98" r="2.4" fill="#F8741A"/><circle cx="507.26" cy="256.59" r="2.4" fill="#F8741A"/><circle cx="512.44" cy="249.97" r="2.4" fill="#F8741A"/>
<path d="M392.1 380.7H408.4" stroke="#1893DC" stroke-width="1.5"/>
<circle cx="400.2" cy="380.7" r="2.2" fill="#1893DC"/>
<text x="409.8" y="383" font-size="6.4" fill="#595959" stroke="#595959" stroke-width="0.12" textLength="6.0" lengthAdjust="spacingAndGlyphs">Ct</text>
<path d="M421.1 380.7H437.4" stroke="#F8741A" stroke-width="1.5"/>
<circle cx="429.2" cy="380.7" r="2.2" fill="#F8741A"/>
<text x="438.8" y="383" font-size="6.4" fill="#595959" stroke="#595959" stroke-width="0.12" textLength="6.0" lengthAdjust="spacingAndGlyphs">St</text>
<text x="417.9" y="410.3" text-anchor="middle" font-family="Liberation Serif, serif" font-size="11.5" fill="#000">(<tspan font-weight="bold">h</tspan>)</text>
<path d="M7.9 592.8V420.6H252.2" stroke="#d6d6d6" stroke-width="1" fill="none"/>
<path d="M252.4 420.6V593H7.9" stroke="#969696" stroke-width="1.6" fill="none" filter="url(#sh)"/>
<path d="M37.3 557.1H236.2 M37.3 538.98H236.2 M37.3 520.87H236.2 M37.3 502.75H236.2 M37.3 484.63H236.2 M37.3 466.52H236.2 M37.3 448.4H236.2 M37.3 448.4V557.1 M62.16 448.4V557.1 M87.02 448.4V557.1 M111.89 448.4V557.1 M136.75 448.4V557.1 M161.61 448.4V557.1 M186.47 448.4V557.1 M211.34 448.4V557.1 M236.2 448.4V557.1" stroke="#D2D2D2" stroke-width="0.9" fill="none"/>
<text x="31.5" y="559.8" text-anchor="end" font-size="7.0" fill="#595959" stroke="#595959" stroke-width="0.15" textLength="4.09" lengthAdjust="spacingAndGlyphs">0</text>
<text x="31.5" y="541.68" text-anchor="end" font-size="7.0" fill="#595959" stroke="#595959" stroke-width="0.15" textLength="16.35" lengthAdjust="spacingAndGlyphs">5000</text>
<text x="31.5" y="523.57" text-anchor="end" font-size="7.0" fill="#595959" stroke="#595959" stroke-width="0.15" textLength="20.76" lengthAdjust="spacingAndGlyphs">10,000</text>
<text x="31.5" y="505.45" text-anchor="end" font-size="7.0" fill="#595959" stroke="#595959" stroke-width="0.15" textLength="20.76" lengthAdjust="spacingAndGlyphs">15,000</text>
<text x="31.5" y="487.33" text-anchor="end" font-size="7.0" fill="#595959" stroke="#595959" stroke-width="0.15" textLength="20.76" lengthAdjust="spacingAndGlyphs">20,000</text>
<text x="31.5" y="469.22" text-anchor="end" font-size="7.0" fill="#595959" stroke="#595959" stroke-width="0.15" textLength="20.76" lengthAdjust="spacingAndGlyphs">25,000</text>
<text x="31.5" y="451.1" text-anchor="end" font-size="7.0" fill="#595959" stroke="#595959" stroke-width="0.15" textLength="20.76" lengthAdjust="spacingAndGlyphs">30,000</text>
<text x="37.3" y="569.2" text-anchor="middle" font-size="7.0" fill="#595959" stroke="#595959" stroke-width="0.15" textLength="15.41" lengthAdjust="spacingAndGlyphs">1985</text>
<text x="62.16" y="569.2" text-anchor="middle" font-size="7.0" fill="#595959" stroke="#595959" stroke-width="0.15" textLength="15.41" lengthAdjust="spacingAndGlyphs">1990</text>
<text x="87.02" y="569.2" text-anchor="middle" font-size="7.0" fill="#595959" stroke="#595959" stroke-width="0.15" textLength="15.41" lengthAdjust="spacingAndGlyphs">1995</text>
<text x="111.89" y="569.2" text-anchor="middle" font-size="7.0" fill="#595959" stroke="#595959" stroke-width="0.15" textLength="15.41" lengthAdjust="spacingAndGlyphs">2000</text>
<text x="136.75" y="569.2" text-anchor="middle" font-size="7.0" fill="#595959" stroke="#595959" stroke-width="0.15" textLength="15.41" lengthAdjust="spacingAndGlyphs">2005</text>
<text x="161.61" y="569.2" text-anchor="middle" font-size="7.0" fill="#595959" stroke="#595959" stroke-width="0.15" textLength="15.41" lengthAdjust="spacingAndGlyphs">2010</text>
<text x="186.47" y="569.2" text-anchor="middle" font-size="7.0" fill="#595959" stroke="#595959" stroke-width="0.15" textLength="15.41" lengthAdjust="spacingAndGlyphs">2015</text>
<text x="211.34" y="569.2" text-anchor="middle" font-size="7.0" fill="#595959" stroke="#595959" stroke-width="0.15" textLength="15.41" lengthAdjust="spacingAndGlyphs">2020</text>
<text x="236.2" y="569.2" text-anchor="middle" font-size="7.0" fill="#595959" stroke="#595959" stroke-width="0.15" textLength="15.41" lengthAdjust="spacingAndGlyphs">2025</text>
<text x="64" y="436" font-size="10.3" fill="#595959" stroke="#595959" stroke-width="0.08" textLength="130.6" lengthAdjust="spacingAndGlyphs">Cumulative Patents: Thailand</text>
<path d="M52.22 555.4 L57.19 555 L62.16 554.78 L67.13 554.56 L72.11 554.2 L77.08 553.84 L82.05 553.59 L87.02 552.97 L92 552.17 L96.97 551.38 L101.94 549.6 L106.91 546.95 L111.89 544.6 L116.86 542.61 L121.83 540.98 L126.8 537.57 L131.78 534.64 L136.75 531.37 L141.72 527.57 L146.69 524.49 L151.67 520.98 L156.64 517.24 L161.61 512.9 L166.58 509.27 L171.56 505.65 L176.53 500.58 L181.5 496.23 L186.47 492.6 L191.45 488.26 L196.42 485 L201.39 481.73 L206.37 478.84 L211.34 475.94 L216.31 473.04 L221.28 469.78" stroke="#1893DC" stroke-width="1.7" fill="none" stroke-linejoin="round"/>
<circle cx="52.22" cy="555.4" r="2.4" fill="#1893DC"/><circle cx="57.19" cy="555" r="2.4" fill="#1893DC"/><circle cx="62.16" cy="554.78" r="2.4" fill="#1893DC"/><circle cx="67.13" cy="554.56" r="2.4" fill="#1893DC"/><circle cx="72.11" cy="554.2" r="2.4" fill="#1893DC"/><circle cx="77.08" cy="553.84" r="2.4" fill="#1893DC"/><circle cx="82.05" cy="553.59" r="2.4" fill="#1893DC"/><circle cx="87.02" cy="552.97" r="2.4" fill="#1893DC"/><circle cx="92" cy="552.17" r="2.4" fill="#1893DC"/><circle cx="96.97" cy="551.38" r="2.4" fill="#1893DC"/><circle cx="101.94" cy="549.6" r="2.4" fill="#1893DC"/><circle cx="106.91" cy="546.95" r="2.4" fill="#1893DC"/><circle cx="111.89" cy="544.6" r="2.4" fill="#1893DC"/><circle cx="116.86" cy="542.61" r="2.4" fill="#1893DC"/><circle cx="121.83" cy="540.98" r="2.4" fill="#1893DC"/><circle cx="126.8" cy="537.57" r="2.4" fill="#1893DC"/><circle cx="131.78" cy="534.64" r="2.4" fill="#1893DC"/><circle cx="136.75" cy="531.37" r="2.4" fill="#1893DC"/><circle cx="141.72" cy="527.57" r="2.4" fill="#1893DC"/><circle cx="146.69" cy="524.49" r="2.4" fill="#1893DC"/><circle cx="151.67" cy="520.98" r="2.4" fill="#1893DC"/><circle cx="156.64" cy="517.24" r="2.4" fill="#1893DC"/><circle cx="161.61" cy="512.9" r="2.4" fill="#1893DC"/><circle cx="166.58" cy="509.27" r="2.4" fill="#1893DC"/><circle cx="171.56" cy="505.65" r="2.4" fill="#1893DC"/><circle cx="176.53" cy="500.58" r="2.4" fill="#1893DC"/><circle cx="181.5" cy="496.23" r="2.4" fill="#1893DC"/><circle cx="186.47" cy="492.6" r="2.4" fill="#1893DC"/><circle cx="191.45" cy="488.26" r="2.4" fill="#1893DC"/><circle cx="196.42" cy="485" r="2.4" fill="#1893DC"/><circle cx="201.39" cy="481.73" r="2.4" fill="#1893DC"/><circle cx="206.37" cy="478.84" r="2.4" fill="#1893DC"/><circle cx="211.34" cy="475.94" r="2.4" fill="#1893DC"/><circle cx="216.31" cy="473.04" r="2.4" fill="#1893DC"/><circle cx="221.28" cy="469.78" r="2.4" fill="#1893DC"/>
<path d="M52.22 550.58 L57.19 550 L62.16 549.38 L67.13 548.59 L72.11 547.79 L77.08 547.17 L82.05 546.37 L87.02 545.4 L92 544.42 L96.97 543.33 L101.94 542.61 L106.91 541.59 L111.89 540 L116.86 538.8 L121.83 537.17 L126.8 535.58 L131.78 533.98 L136.75 531.59 L141.72 529.56 L146.69 527.03 L151.67 524.49 L156.64 521.95 L161.61 519.06 L166.58 515.79 L171.56 512.53 L176.53 508.91 L181.5 504.56 L186.47 500.58 L191.45 495.5 L196.42 490.79 L201.39 485 L206.37 478.47 L211.34 471.95 L216.31 465.07 L221.28 457.46" stroke="#F8741A" stroke-width="1.7" fill="none" stroke-linejoin="round"/>
<circle cx="52.22" cy="550.58" r="2.4" fill="#F8741A"/><circle cx="57.19" cy="550" r="2.4" fill="#F8741A"/><circle cx="62.16" cy="549.38" r="2.4" fill="#F8741A"/><circle cx="67.13" cy="548.59" r="2.4" fill="#F8741A"/><circle cx="72.11" cy="547.79" r="2.4" fill="#F8741A"/><circle cx="77.08" cy="547.17" r="2.4" fill="#F8741A"/><circle cx="82.05" cy="546.37" r="2.4" fill="#F8741A"/><circle cx="87.02" cy="545.4" r="2.4" fill="#F8741A"/><circle cx="92" cy="544.42" r="2.4" fill="#F8741A"/><circle cx="96.97" cy="543.33" r="2.4" fill="#F8741A"/><circle cx="101.94" cy="542.61" r="2.4" fill="#F8741A"/><circle cx="106.91" cy="541.59" r="2.4" fill="#F8741A"/><circle cx="111.89" cy="540" r="2.4" fill="#F8741A"/><circle cx="116.86" cy="538.8" r="2.4" fill="#F8741A"/><circle cx="121.83" cy="537.17" r="2.4" fill="#F8741A"/><circle cx="126.8" cy="535.58" r="2.4" fill="#F8741A"/><circle cx="131.78" cy="533.98" r="2.4" fill="#F8741A"/><circle cx="136.75" cy="531.59" r="2.4" fill="#F8741A"/><circle cx="141.72" cy="529.56" r="2.4" fill="#F8741A"/><circle cx="146.69" cy="527.03" r="2.4" fill="#F8741A"/><circle cx="151.67" cy="524.49" r="2.4" fill="#F8741A"/><circle cx="156.64" cy="521.95" r="2.4" fill="#F8741A"/><circle cx="161.61" cy="519.06" r="2.4" fill="#F8741A"/><circle cx="166.58" cy="515.79" r="2.4" fill="#F8741A"/><circle cx="171.56" cy="512.53" r="2.4" fill="#F8741A"/><circle cx="176.53" cy="508.91" r="2.4" fill="#F8741A"/><circle cx="181.5" cy="504.56" r="2.4" fill="#F8741A"/><circle cx="186.47" cy="500.58" r="2.4" fill="#F8741A"/><circle cx="191.45" cy="495.5" r="2.4" fill="#F8741A"/><circle cx="196.42" cy="490.79" r="2.4" fill="#F8741A"/><circle cx="201.39" cy="485" r="2.4" fill="#F8741A"/><circle cx="206.37" cy="478.47" r="2.4" fill="#F8741A"/><circle cx="211.34" cy="471.95" r="2.4" fill="#F8741A"/><circle cx="216.31" cy="465.07" r="2.4" fill="#F8741A"/><circle cx="221.28" cy="457.46" r="2.4" fill="#F8741A"/>
<path d="M104.5 582.4H120.8" stroke="#1893DC" stroke-width="1.5"/>
<circle cx="112.6" cy="582.4" r="2.2" fill="#1893DC"/>
<text x="122.2" y="584.7" font-size="6.4" fill="#595959" stroke="#595959" stroke-width="0.12" textLength="6.0" lengthAdjust="spacingAndGlyphs">Ct</text>
<path d="M133.5 582.4H149.8" stroke="#F8741A" stroke-width="1.5"/>
<circle cx="141.6" cy="582.4" r="2.2" fill="#F8741A"/>
<text x="151.2" y="584.7" font-size="6.4" fill="#595959" stroke="#595959" stroke-width="0.12" textLength="6.0" lengthAdjust="spacingAndGlyphs">St</text>
<text x="129.8" y="612.3" text-anchor="middle" font-family="Liberation Serif, serif" font-size="11.5" fill="#000">(<tspan font-weight="bold">i</tspan>)</text>
<path d="M293.8 593.5V420H541.3" stroke="#d6d6d6" stroke-width="1" fill="none"/>
<path d="M541.5 420V593.7H293.8" stroke="#969696" stroke-width="1.6" fill="none" filter="url(#sh)"/>
<path d="M325.1 558H526 M325.1 539.73H526 M325.1 521.47H526 M325.1 503.2H526 M325.1 484.93H526 M325.1 466.67H526 M325.1 448.4H526 M325.1 448.4V558 M350.21 448.4V558 M375.33 448.4V558 M400.44 448.4V558 M425.55 448.4V558 M450.66 448.4V558 M475.77 448.4V558 M500.89 448.4V558 M526 448.4V558" stroke="#D2D2D2" stroke-width="0.9" fill="none"/>
<text x="317.9" y="560.65" text-anchor="end" font-size="7.0" fill="#595959" stroke="#595959" stroke-width="0.15" textLength="4.09" lengthAdjust="spacingAndGlyphs">0</text>
<text x="317.9" y="542.38" text-anchor="end" font-size="7.0" fill="#595959" stroke="#595959" stroke-width="0.15" textLength="16.35" lengthAdjust="spacingAndGlyphs">2000</text>
<text x="317.9" y="524.12" text-anchor="end" font-size="7.0" fill="#595959" stroke="#595959" stroke-width="0.15" textLength="16.35" lengthAdjust="spacingAndGlyphs">4000</text>
<text x="317.9" y="505.85" text-anchor="end" font-size="7.0" fill="#595959" stroke="#595959" stroke-width="0.15" textLength="16.35" lengthAdjust="spacingAndGlyphs">6000</text>
<text x="317.9" y="487.58" text-anchor="end" font-size="7.0" fill="#595959" stroke="#595959" stroke-width="0.15" textLength="16.35" lengthAdjust="spacingAndGlyphs">8000</text>
<text x="317.9" y="469.32" text-anchor="end" font-size="7.0" fill="#595959" stroke="#595959" stroke-width="0.15" textLength="20.76" lengthAdjust="spacingAndGlyphs">10,000</text>
<text x="317.9" y="451.05" text-anchor="end" font-size="7.0" fill="#595959" stroke="#595959" stroke-width="0.15" textLength="20.76" lengthAdjust="spacingAndGlyphs">12,000</text>
<text x="325.1" y="570.8" text-anchor="middle" font-size="7.0" fill="#595959" stroke="#595959" stroke-width="0.15" textLength="15.41" lengthAdjust="spacingAndGlyphs">1985</text>
<text x="350.21" y="570.8" text-anchor="middle" font-size="7.0" fill="#595959" stroke="#595959" stroke-width="0.15" textLength="15.41" lengthAdjust="spacingAndGlyphs">1990</text>
<text x="375.33" y="570.8" text-anchor="middle" font-size="7.0" fill="#595959" stroke="#595959" stroke-width="0.15" textLength="15.41" lengthAdjust="spacingAndGlyphs">1995</text>
<text x="400.44" y="570.8" text-anchor="middle" font-size="7.0" fill="#595959" stroke="#595959" stroke-width="0.15" textLength="15.41" lengthAdjust="spacingAndGlyphs">2000</text>
<text x="425.55" y="570.8" text-anchor="middle" font-size="7.0" fill="#595959" stroke="#595959" stroke-width="0.15" textLength="15.41" lengthAdjust="spacingAndGlyphs">2005</text>
<text x="450.66" y="570.8" text-anchor="middle" font-size="7.0" fill="#595959" stroke="#595959" stroke-width="0.15" textLength="15.41" lengthAdjust="spacingAndGlyphs">2010</text>
<text x="475.77" y="570.8" text-anchor="middle" font-size="7.0" fill="#595959" stroke="#595959" stroke-width="0.15" textLength="15.41" lengthAdjust="spacingAndGlyphs">2015</text>
<text x="500.89" y="570.8" text-anchor="middle" font-size="7.0" fill="#595959" stroke="#595959" stroke-width="0.15" textLength="15.41" lengthAdjust="spacingAndGlyphs">2020</text>
<text x="526" y="570.8" text-anchor="middle" font-size="7.0" fill="#595959" stroke="#595959" stroke-width="0.15" textLength="15.41" lengthAdjust="spacingAndGlyphs">2025</text>
<text x="350.2" y="435.4" font-size="10.3" fill="#595959" stroke="#595959" stroke-width="0.08" textLength="134.4" lengthAdjust="spacingAndGlyphs">Cumulative Patents: Viet Nam</text>
<path d="M340.17 557.45 L345.19 557.28 L350.21 557.09 L355.24 556.9 L360.26 556.7 L365.28 556.49 L370.3 556.25 L375.33 555.99 L380.35 555.7 L385.37 555.4 L390.39 555.06 L395.42 554.67 L400.44 554.16 L405.46 553.47 L410.48 552.61 L415.5 551.7 L420.53 550.6 L425.55 549.05 L430.57 547.31 L435.6 545.67 L440.62 543.84 L445.64 541.01 L450.66 538.36 L455.69 535.99 L460.71 532.43 L465.73 528.32 L470.75 523.02 L475.77 518 L480.8 512.97 L485.82 507.58 L490.84 502.01 L495.87 495.16 L500.89 486.76 L505.91 477.17 L510.93 468.4" stroke="#1893DC" stroke-width="1.7" fill="none" stroke-linejoin="round"/>
<circle cx="340.17" cy="557.45" r="2.4" fill="#1893DC"/><circle cx="345.19" cy="557.28" r="2.4" fill="#1893DC"/><circle cx="350.21" cy="557.09" r="2.4" fill="#1893DC"/><circle cx="355.24" cy="556.9" r="2.4" fill="#1893DC"/><circle cx="360.26" cy="556.7" r="2.4" fill="#1893DC"/><circle cx="365.28" cy="556.49" r="2.4" fill="#1893DC"/><circle cx="370.3" cy="556.25" r="2.4" fill="#1893DC"/><circle cx="375.33" cy="555.99" r="2.4" fill="#1893DC"/><circle cx="380.35" cy="555.7" r="2.4" fill="#1893DC"/><circle cx="385.37" cy="555.4" r="2.4" fill="#1893DC"/><circle cx="390.39" cy="555.06" r="2.4" fill="#1893DC"/><circle cx="395.42" cy="554.67" r="2.4" fill="#1893DC"/><circle cx="400.44" cy="554.16" r="2.4" fill="#1893DC"/><circle cx="405.46" cy="553.47" r="2.4" fill="#1893DC"/><circle cx="410.48" cy="552.61" r="2.4" fill="#1893DC"/><circle cx="415.5" cy="551.7" r="2.4" fill="#1893DC"/><circle cx="420.53" cy="550.6" r="2.4" fill="#1893DC"/><circle cx="425.55" cy="549.05" r="2.4" fill="#1893DC"/><circle cx="430.57" cy="547.31" r="2.4" fill="#1893DC"/><circle cx="435.6" cy="545.67" r="2.4" fill="#1893DC"/><circle cx="440.62" cy="543.84" r="2.4" fill="#1893DC"/><circle cx="445.64" cy="541.01" r="2.4" fill="#1893DC"/><circle cx="450.66" cy="538.36" r="2.4" fill="#1893DC"/><circle cx="455.69" cy="535.99" r="2.4" fill="#1893DC"/><circle cx="460.71" cy="532.43" r="2.4" fill="#1893DC"/><circle cx="465.73" cy="528.32" r="2.4" fill="#1893DC"/><circle cx="470.75" cy="523.02" r="2.4" fill="#1893DC"/><circle cx="475.77" cy="518" r="2.4" fill="#1893DC"/><circle cx="480.8" cy="512.97" r="2.4" fill="#1893DC"/><circle cx="485.82" cy="507.58" r="2.4" fill="#1893DC"/><circle cx="490.84" cy="502.01" r="2.4" fill="#1893DC"/><circle cx="495.87" cy="495.16" r="2.4" fill="#1893DC"/><circle cx="500.89" cy="486.76" r="2.4" fill="#1893DC"/><circle cx="505.91" cy="477.17" r="2.4" fill="#1893DC"/><circle cx="510.93" cy="468.4" r="2.4" fill="#1893DC"/>
<path d="M340.17 557.18 L345.19 557.01 L350.21 556.81 L355.24 556.6 L360.26 556.36 L365.28 556.08 L370.3 555.78 L375.33 555.44 L380.35 555.08 L385.37 554.68 L390.39 554.25 L395.42 553.75 L400.44 553.16 L405.46 552.45 L410.48 551.61 L415.5 550.6 L420.53 549.41 L425.55 548.04 L430.57 546.4 L435.6 545.03 L440.62 543.39 L445.64 541.01 L450.66 538.36 L455.69 535.99 L460.71 532.43 L465.73 529.05 L470.75 525.03 L475.77 520.64 L480.8 515.44 L485.82 509.41 L490.84 503.02 L495.87 495.44 L500.89 486.58 L505.91 476.62 L510.93 465.02" stroke="#F8741A" stroke-width="1.7" fill="none" stroke-linejoin="round"/>
<circle cx="340.17" cy="557.18" r="2.4" fill="#F8741A"/><circle cx="345.19" cy="557.01" r="2.4" fill="#F8741A"/><circle cx="350.21" cy="556.81" r="2.4" fill="#F8741A"/><circle cx="355.24" cy="556.6" r="2.4" fill="#F8741A"/><circle cx="360.26" cy="556.36" r="2.4" fill="#F8741A"/><circle cx="365.28" cy="556.08" r="2.4" fill="#F8741A"/><circle cx="370.3" cy="555.78" r="2.4" fill="#F8741A"/><circle cx="375.33" cy="555.44" r="2.4" fill="#F8741A"/><circle cx="380.35" cy="555.08" r="2.4" fill="#F8741A"/><circle cx="385.37" cy="554.68" r="2.4" fill="#F8741A"/><circle cx="390.39" cy="554.25" r="2.4" fill="#F8741A"/><circle cx="395.42" cy="553.75" r="2.4" fill="#F8741A"/><circle cx="400.44" cy="553.16" r="2.4" fill="#F8741A"/><circle cx="405.46" cy="552.45" r="2.4" fill="#F8741A"/><circle cx="410.48" cy="551.61" r="2.4" fill="#F8741A"/><circle cx="415.5" cy="550.6" r="2.4" fill="#F8741A"/><circle cx="420.53" cy="549.41" r="2.4" fill="#F8741A"/><circle cx="425.55" cy="548.04" r="2.4" fill="#F8741A"/><circle cx="430.57" cy="546.4" r="2.4" fill="#F8741A"/><circle cx="435.6" cy="545.03" r="2.4" fill="#F8741A"/><circle cx="440.62" cy="543.39" r="2.4" fill="#F8741A"/><circle cx="445.64" cy="541.01" r="2.4" fill="#F8741A"/><circle cx="450.66" cy="538.36" r="2.4" fill="#F8741A"/><circle cx="455.69" cy="535.99" r="2.4" fill="#F8741A"/><circle cx="460.71" cy="532.43" r="2.4" fill="#F8741A"/><circle cx="465.73" cy="529.05" r="2.4" fill="#F8741A"/><circle cx="470.75" cy="525.03" r="2.4" fill="#F8741A"/><circle cx="475.77" cy="520.64" r="2.4" fill="#F8741A"/><circle cx="480.8" cy="515.44" r="2.4" fill="#F8741A"/><circle cx="485.82" cy="509.41" r="2.4" fill="#F8741A"/><circle cx="490.84" cy="503.02" r="2.4" fill="#F8741A"/><circle cx="495.87" cy="495.44" r="2.4" fill="#F8741A"/><circle cx="500.89" cy="486.58" r="2.4" fill="#F8741A"/><circle cx="505.91" cy="476.62" r="2.4" fill="#F8741A"/><circle cx="510.93" cy="465.02" r="2.4" fill="#F8741A"/>
<path d="M392.7 583.4H409" stroke="#1893DC" stroke-width="1.5"/>
<circle cx="400.8" cy="583.4" r="2.2" fill="#1893DC"/>
<text x="410.4" y="585.7" font-size="6.4" fill="#595959" stroke="#595959" stroke-width="0.12" textLength="6.0" lengthAdjust="spacingAndGlyphs">Ct</text>
<path d="M421.7 583.4H438" stroke="#F8741A" stroke-width="1.5"/>
<circle cx="429.8" cy="583.4" r="2.2" fill="#F8741A"/>
<text x="439.4" y="585.7" font-size="6.4" fill="#595959" stroke="#595959" stroke-width="0.12" textLength="6.0" lengthAdjust="spacingAndGlyphs">St</text>
<text x="418" y="612.3" text-anchor="middle" font-family="Liberation Serif, serif" font-size="11.5" fill="#000">(<tspan font-weight="bold">j</tspan>)</text>
</svg>
</body></html>
